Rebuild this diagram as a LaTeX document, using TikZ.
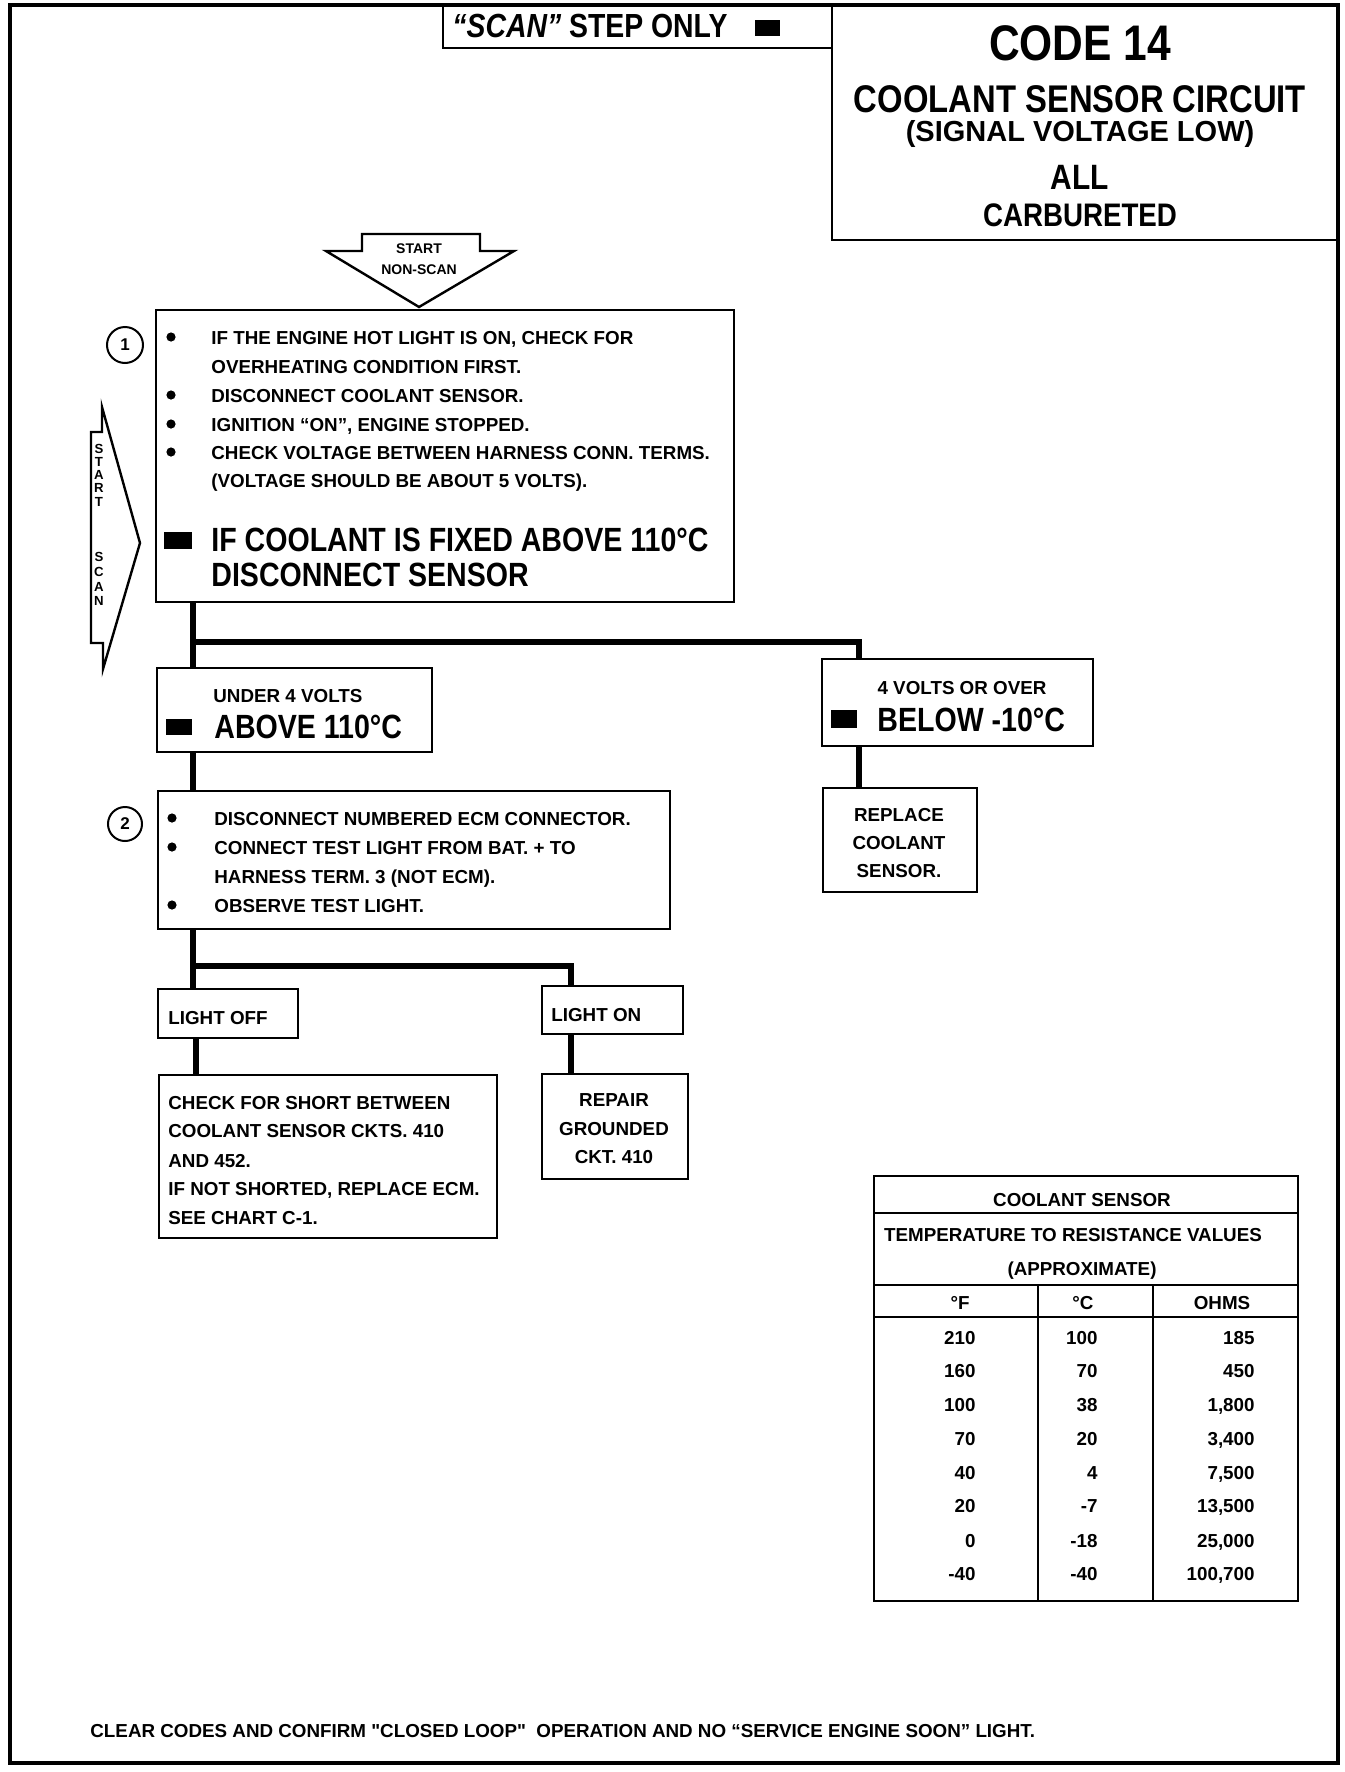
\documentclass[tikz,border=0pt]{standalone}
\usepackage{fontspec}
\setmainfont{Liberation Sans}
\newfontfamily\cnd{Liberation Sans}[FakeStretch=0.85]
\begin{document}
\begin{tikzpicture}[x=0.5pt,y=-0.5pt,
  box/.style={draw, line width=1.2pt, inner sep=0, anchor=north west},
  conn/.style={line width=3pt},
  sm/.style={inner sep=0, anchor=base west, font=\bfseries\fontsize{9.4pt}{11pt}\selectfont},
  smc/.style={sm, anchor=base},
  smr/.style={sm, anchor=base east},
  bg/.style={inner sep=0, anchor=base west, font=\cnd\bfseries\fontsize{16.8pt}{20pt}\selectfont},
  hd/.style={inner sep=0, anchor=base},
  tinyl/.style={inner sep=0, font=\bfseries\fontsize{6.6pt}{7pt}\selectfont},
  bul/.style={circle, fill, inner sep=0, minimum size=4.6pt},
  num/.style={circle, draw, line width=1pt, inner sep=0, font=\bfseries\fontsize{8.5pt}{10pt}\selectfont},
  outl/.style={line width=1.2pt, line join=miter}
]
\useasboundingbox (0,0) rectangle (1344,1772);
\draw[line width=2pt] (10,5) rectangle (1338,1763);

% ---------- header ----------
\node[box, minimum width=194.5pt, minimum height=21pt] (scanbox) at (442,5) {};
\node[box, minimum width=253pt, minimum height=117pt] (codebox) at (831,5) {};
\node[bg, font=\cnd\bfseries\fontsize{16.7pt}{20pt}\selectfont] (scantxt) at (452,37) {\textit{“SCAN”} STEP ONLY};
\fill (755,20) rectangle (780,36);

\node[hd, font=\cnd\bfseries\fontsize{25pt}{30pt}\selectfont] (code) at (1080,60) {CODE 14};
\node[hd, font=\cnd\bfseries\fontsize{19.3pt}{22pt}\selectfont] (circ) at (1080,112) {COOLANT SENSOR CIRCUIT};
\node[hd, font=\bfseries\fontsize{14.5pt}{17pt}\selectfont] (sig) at (1080,141) {(SIGNAL VOLTAGE LOW)};
\node[hd, font=\cnd\bfseries\fontsize{17.6pt}{20pt}\selectfont] (all) at (1080,189) {ALL};
\node[hd, font=\cnd\bfseries\fontsize{16.3pt}{20pt}\selectfont] (carb) at (1080,226) {CARBURETED};

% ---------- start arrows ----------
\draw[outl] (362,234) -- (480,234) -- (480,251) -- (514,251) -- (419,307) -- (326,251) -- (362,251) -- cycle;
\node[hd, font=\bfseries\fontsize{7pt}{8pt}\selectfont] (st1) at (419,253) {START};
\node[hd, font=\bfseries\fontsize{7pt}{8pt}\selectfont] (st2) at (419,274) {NON-SCAN};

\draw[outl] (102,407) -- (140,543) -- (103,669) -- (103,643) -- (91,643) -- (91,432) -- (102,432) -- cycle;
\foreach \l/\y [count=\i] in {S/449,T/462,A/475,R/488,T/502,S/557,C/572,A/587,N/601}
  \node[tinyl] (ss\i) at (99,\y) {\l};

% ---------- box 1 ----------
\node[box, minimum width=289pt, minimum height=146pt] (b1) at (155,309) {};
\node[num, minimum size=18pt] (n1) at (125,345) {1};
\foreach \y in {337,395,424,452} \node[bul] at (171,\y) {};
\node[sm] (a1) at (211,344) {IF THE ENGINE HOT LIGHT IS ON, CHECK FOR};
\node[sm] (a2) at (211,373) {OVERHEATING CONDITION FIRST.};
\node[sm] (a3) at (211,402) {DISCONNECT COOLANT SENSOR.};
\node[sm] (a4) at (211,431) {IGNITION “ON”, ENGINE STOPPED.};
\node[sm] (a5) at (211,459) {CHECK VOLTAGE BETWEEN HARNESS CONN. TERMS.};
\node[sm] (a6) at (211,487) {(VOLTAGE SHOULD BE ABOUT 5 VOLTS).};
\fill (164,532) rectangle (192,549);
\node[bg] (a7) at (211,551) {IF COOLANT IS FIXED ABOVE 110°C};
\node[bg] (a8) at (211,586) {DISCONNECT SENSOR};

% ---------- result boxes ----------
\node[box, minimum width=137.5pt, minimum height=42pt] (under) at (156,667) {};
\node[sm] (u1) at (213,702) {UNDER 4 VOLTS};
\fill (166,719) rectangle (192,735);
\node[bg] (u2) at (214,738) {ABOVE 110°C};

\node[box, minimum width=135.5pt, minimum height=43.5pt] (over) at (821,658) {};
\node[smc] (o1) at (962,694) {4 VOLTS OR OVER};
\fill (831,710) rectangle (857,728);
\node[bg] (o2) at (877,731) {BELOW -10°C};

\node[box, minimum width=77pt, minimum height=52pt] (replace) at (822,787) {};
\node[smc] (r1) at (899,821) {REPLACE};
\node[smc] (r2) at (899,849) {COOLANT};
\node[smc] (r3) at (899,877) {SENSOR.};

% ---------- box 2 ----------
\node[box, minimum width=256pt, minimum height=69pt] (b2) at (157,790) {};
\node[num, minimum size=17pt] (n2) at (125,824) {2};
\foreach \y in {818,847,905} \node[bul] at (172,\y) {};
\node[sm] (d1) at (214,825) {DISCONNECT NUMBERED ECM CONNECTOR.};
\node[sm] (d2) at (214,854) {CONNECT TEST LIGHT FROM BAT. + TO};
\node[sm] (d3) at (214,883) {HARNESS TERM. 3 (NOT ECM).};
\node[sm] (d4) at (214,912) {OBSERVE TEST LIGHT.};

\node[box, minimum width=70pt, minimum height=24.5pt] (loff) at (157,988) {};
\node[sm] (lf) at (168,1024) {LIGHT OFF};
\node[box, minimum width=70.5pt, minimum height=24pt] (lon) at (541,985) {};
\node[sm] (ln) at (551,1021) {LIGHT ON};

\node[box, minimum width=169pt, minimum height=81.5pt] (check) at (158,1074) {};
\node[sm] (k1) at (168,1109) {CHECK FOR SHORT BETWEEN};
\node[sm] (k2) at (168,1137) {COOLANT SENSOR CKTS. 410};
\node[sm] (k3) at (168,1167) {AND 452.};
\node[sm] (k4) at (168,1195) {IF NOT SHORTED, REPLACE ECM.};
\node[sm] (k5) at (168,1224) {SEE CHART C-1.};

\node[box, minimum width=73pt, minimum height=52.5pt] (repair) at (541,1073) {};
\node[smc] (p1) at (614,1106) {REPAIR};
\node[smc] (p2) at (614,1135) {GROUNDED};
\node[smc] (p3) at (614,1163) {CKT. 410};

% ---------- connectors ----------
\coordinate (xa) at (193,642);
\coordinate (xb) at (859,642);
\coordinate (xc) at (193,966);
\coordinate (xd) at (571,966);
\coordinate (xe) at (196,1000);
\draw[conn] (b1.south -| xa) -- (under.north -| xa);
\draw[conn, line join=miter] (xa) -- (xb) -- (over.north -| xb);
\draw[conn] (over.south -| xb) -- (replace.north -| xb);
\draw[conn] (under.south -| xa) -- (b2.north -| xa);
\draw[conn] (b2.south -| xc) -- (loff.north -| xc);
\draw[conn, line join=miter] (xc) -- (xd) -- (lon.north -| xd);
\draw[conn] (loff.south -| xe) -- (check.north -| xe);
\draw[conn] (lon.south -| xd) -- (repair.north -| xd);

% ---------- table ----------
\node[box, minimum width=212pt, minimum height=212.5pt] (tab) at (873,1175) {};
\coordinate (h1) at (873,1213);
\coordinate (h2) at (873,1285);
\coordinate (h3) at (873,1317);
\coordinate (v1) at (1038,1285);
\coordinate (v2) at (1153,1285);
\foreach \h in {h1,h2,h3} \draw[line width=1.2pt] (\h -| tab.west) -- (\h -| tab.east);
\foreach \v in {v1,v2} \draw[line width=1.2pt] (\v) -- (\v |- tab.south);
\node[smc] (tt1) at (1082,1206) {COOLANT SENSOR};
\node[smc] (tt2) at (1073,1241) {TEMPERATURE TO RESISTANCE VALUES};
\node[smc] (tt3) at (1082,1275) {(APPROXIMATE)};
\node[smc] (th1) at (960,1309) {°F};
\node[smc] (th2) at (1083,1309) {°C};
\node[smc] (th3) at (1222,1309) {OHMS};
\foreach \f/\c/\o/\y [count=\i] in {210/100/185/1344, 160/70/450/1377, 100/38/{1,800}/1411, 70/20/{3,400}/1445, 40/4/{7,500}/1479, 20/-7/{13,500}/1512, 0/-18/{25,000}/1547, -40/-40/{100,700}/1580}{
  \node[smr] (tf\i) at (976,\y) {\f};
  \node[smr] (tc\i) at (1098,\y) {\c};
  \node[smr] (to\i) at (1255,\y) {\o};
}

% ---------- footer ----------
\node[sm] (foot) at (90,1737) {CLEAR CODES AND CONFIRM \textquotedbl CLOSED LOOP\textquotedbl\ \ OPERATION AND NO “SERVICE ENGINE SOON” LIGHT.};
\end{tikzpicture}
\end{document}
